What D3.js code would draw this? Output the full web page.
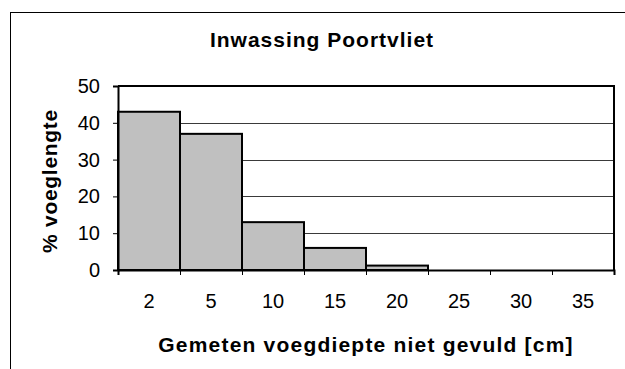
<!DOCTYPE html>
<html>
<head>
<meta charset="utf-8">
<script src="https://cdn.jsdelivr.net/npm/d3@7"></script>
<style>
  html, body { margin: 0; padding: 0; background: #fff; }
  svg { display: block; font-family: "Liberation Sans", Arial, sans-serif; }
</style>
</head>
<body>
<svg id="chart" width="625" height="369"></svg>
<script>
// Depth classes (cm) and share of joint length (%)
const categories = ["2", "5", "10", "15", "20", "25", "30", "35"];
const values = [43, 37, 13, 6, 1.2, 0, 0, 0];
const yTicks = [0, 10, 20, 30, 40, 50];

const titleText = "Inwassing Poortvliet";
const xTitle = "Gemeten voegdiepte niet gevuld [cm]";
const yTitle = "% voeglengte";

const svg = d3.select("#chart");
const plot = { left: 118, right: 614, top: 86, bottom: 270 };

// outer chart frame
svg.append("rect")
  .attr("x", 10.5).attr("y", 12.5)
  .attr("width", 800).attr("height", 600)
  .attr("fill", "none").attr("stroke", "#000").attr("stroke-width", 1);

const x = d3.scaleBand().domain(categories).range([plot.left, plot.right]).padding(0);
const xEdges = d3.scaleLinear().domain([0, categories.length]).range([plot.left, plot.right]);
const y = d3.scaleLinear().domain([0, 50]).range([plot.bottom, plot.top]);

// horizontal gridlines
svg.append("g")
  .selectAll("line")
  .data(yTicks.filter(t => t > 0 && t < 50))
  .join("line")
  .attr("x1", plot.left).attr("x2", plot.right)
  .attr("y1", d => Math.round(y(d)) + 0.5).attr("y2", d => Math.round(y(d)) + 0.5)
  .attr("stroke", "#3a3a3a").attr("stroke-width", 1);

// plot frame (top and right)
svg.append("path")
  .attr("d", `M${plot.left},${plot.top}H${plot.right}V${plot.bottom}`)
  .attr("fill", "none").attr("stroke", "#000").attr("stroke-width", 2);

// bars
svg.append("g")
  .selectAll("rect")
  .data(categories.map((c, i) => ({ c, v: values[i] })).filter(d => d.v > 0))
  .join("rect")
  .attr("x", d => x(d.c))
  .attr("y", d => y(d.v))
  .attr("width", x.bandwidth())
  .attr("height", d => y(0) - y(d.v))
  .attr("fill", "#c0c0c0")
  .attr("stroke", "#000")
  .attr("stroke-width", 2);

// y axis
const yAxis = svg.append("g")
  .attr("transform", `translate(${plot.left},0)`)
  .call(d3.axisLeft(y).tickValues(yTicks).tickSize(5).tickPadding(13));
yAxis.select(".domain").attr("stroke", "#000").attr("stroke-width", 2);
yAxis.selectAll(".tick line").attr("stroke", "#000").attr("stroke-width", 1);
yAxis.selectAll(".tick text")
  .attr("font-size", 20).attr("fill", "#000")
  .attr("font-family", "Liberation Sans, Arial, sans-serif");

// x axis: ticks on class boundaries
const xTickAxis = svg.append("g")
  .attr("transform", `translate(0,${plot.bottom})`)
  .call(d3.axisBottom(xEdges).tickValues(d3.range(categories.length + 1)).tickSize(5).tickFormat(""));
xTickAxis.select(".domain").attr("stroke", "#000").attr("stroke-width", 2);
xTickAxis.selectAll(".tick line").attr("stroke", "#000").attr("stroke-width", 1);

// x axis: labels centred on classes
const xLabelAxis = svg.append("g")
  .attr("transform", `translate(0,${plot.bottom})`)
  .call(d3.axisBottom(x).tickSize(0).tickPadding(24));
xLabelAxis.select(".domain").remove();
xLabelAxis.selectAll(".tick text")
  .attr("font-size", 20).attr("fill", "#000")
  .attr("font-family", "Liberation Sans, Arial, sans-serif");

// titles
svg.append("text")
  .attr("x", 322).attr("y", 47)
  .attr("text-anchor", "middle")
  .attr("font-size", 21).attr("font-weight", "bold")
  .attr("letter-spacing", 1)
  .text(titleText);

svg.append("text")
  .attr("x", 366).attr("y", 352)
  .attr("text-anchor", "middle")
  .attr("font-size", 21).attr("font-weight", "bold")
  .attr("letter-spacing", 1.2)
  .text(xTitle);

svg.append("text")
  .attr("transform", `translate(57,181) rotate(-90)`)
  .attr("text-anchor", "middle")
  .attr("font-size", 21).attr("font-weight", "bold")
  .attr("letter-spacing", 0.7)
  .text(yTitle);
</script>
</body>
</html>
